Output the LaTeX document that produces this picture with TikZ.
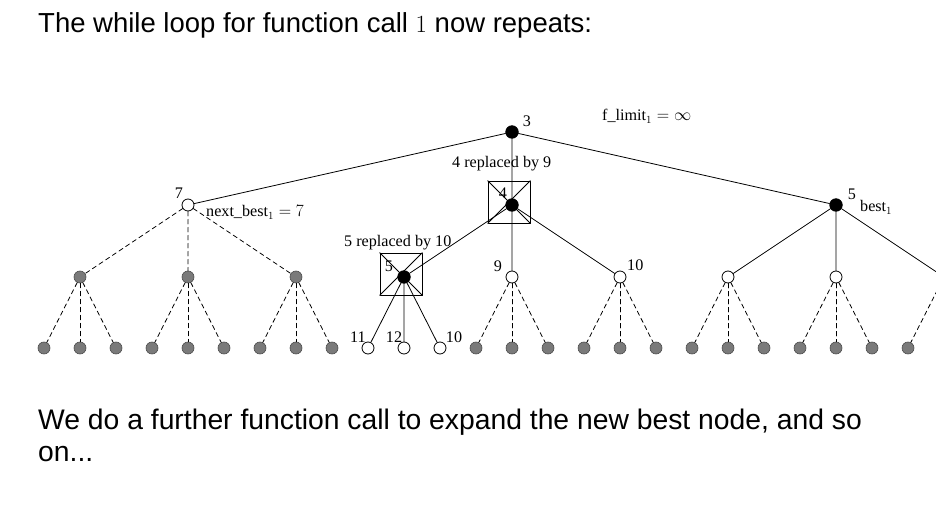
\documentclass[tikz,border=0pt]{standalone}
\usepackage{fontspec}
\setmainfont{Liberation Serif}
\setsansfont{Liberation Sans}
\begin{document}
\begin{tikzpicture}[x=1bp,y=1bp,line join=round,line cap=round,font=\fontsize{16.2}{19}\selectfont]
\def\xmax{936}
\def\ymin{-512}
\tikzset{open/.style={circle,draw,fill=white,minimum size=12bp,inner sep=0pt,line width=0.8bp},
  best/.style={circle,draw,fill=black,minimum size=12.5bp,inner sep=0pt,line width=0.8bp},
  gone/.style={circle,draw=black!70,fill=black!52,minimum size=12bp,inner sep=0pt,line width=0.6bp},
  crossbox/.style={draw,minimum size=42bp,inner sep=0pt,line width=0.9bp},
  edge/.style={line width=0.8bp},
  later/.style={line width=0.8bp,dash pattern=on 4.5bp off 3.5bp},
  tag/.style={inner sep=0pt,anchor=base},
  head/.style={inner sep=0pt,font=\sffamily\fontsize{27.6}{32}\selectfont,align=left}}
\useasboundingbox (0,0) rectangle (\xmax,\ymin);
\node[head,anchor=base west] (title) at (38,-33) {The while loop for function call $1$ now repeats:};
\node[head,anchor=north west,font=\sffamily\fontsize{28.4}{32}\selectfont] (after) at (38,-409) {We do a further function call to expand the new best node, and so\\on...};
\begin{scope}
\clip (0,0) rectangle (\xmax,\ymin);
% replaced nodes
\node[crossbox] (bx) at (509,-202) {};
\draw[edge] (bx.north west) -- (bx.south east) (bx.north east) -- (bx.south west);
\node[crossbox] (bx1) at (401,-274) {};
\draw[edge] (bx1.north west) -- (bx1.south east) (bx1.north east) -- (bx1.south west);
% tree
\node[best] (r) at (512,-132) {};
\node[open] (a) at (188,-205) {};
\node[best] (b) at (512,-205) {};
\node[best] (c) at (836,-205) {};
\node[gone] (a1) at (80,-277) {};
\node[gone] (a2) at (188,-277) {};
\node[gone] (a3) at (296,-277) {};
\node[best] (b1) at (404,-277) {};
\node[open] (b2) at (512,-277) {};
\node[open] (b3) at (620,-277) {};
\node[open] (c1) at (728,-277) {};
\node[open] (c2) at (836,-277) {};
\node[open] (c3) at (944,-277) {};
\node[open] (b11) at (368,-348) {};
\node[open] (b12) at (404,-348) {};
\node[open] (b13) at (440,-348) {};
\draw[edge] (r) -- (a) (r) -- (b) (r) -- (c);
\draw[edge] (b) -- (b1) (b) -- (b2) (b) -- (b3);
\draw[edge] (c) -- (c1) (c) -- (c2) (c) -- (c3);
\draw[edge] (b1) -- (b11) (b1) -- (b12) (b1) -- (b13);
\draw[later] (a) -- (a1) (a) -- (a2) (a) -- (a3);
\foreach \p in {a1,a2,a3,b2,b3,c1,c2,c3}
  \foreach \i/\dx in {1/-36,2/0,3/36}{
    \node[gone] (\p\i) at ([shift={(\dx,-71)}]\p) {};
    \draw[later] (\p) -- (\p\i);
  }
% labels
\node[tag] (l3) at (527,-127) {3};
\node[tag,anchor=base west] (flim) at (602,-121) {f\_limit$_1=\infty$};
\node[tag,anchor=base west] (rep4) at (452,-168) {4 replaced by 9};
\node[tag] (l4) at (503,-199) {4};
\node[tag] (l7) at (179,-199) {7};
\node[tag,anchor=base west] (nb) at (206,-217) {next\_best$_1=7$};
\node[tag,anchor=base west] (rep5) at (344,-247) {5 replaced by 10};
\node[tag] (l5) at (389,-272) {5};
\node[tag] (l9) at (498,-272) {9};
\node[tag,anchor=base west] (l10) at (627,-271) {10};
\node[tag] (l5b) at (852,-200) {5};
\node[tag,anchor=base west] (bst) at (860,-212) {best$_1$};
\node[tag] (l11) at (358,-343) {11};
\node[tag] (l12) at (394,-343) {12};
\node[tag] (l10b) at (454,-343) {10};
\end{scope}
\end{tikzpicture}
\end{document}
